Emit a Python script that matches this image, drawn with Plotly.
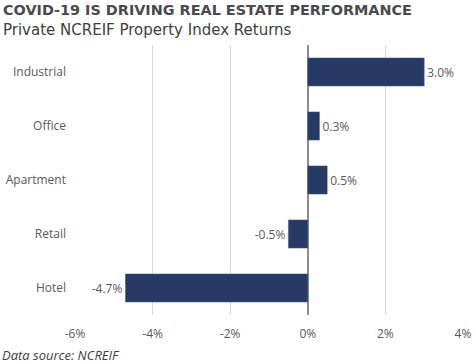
import plotly.graph_objects as go

categories = ["Industrial", "Office", "Apartment", "Retail", "Hotel"]
returns = [3.0, 0.3, 0.5, -0.5, -4.7]
tick_vals = [-6, -4, -2, 0, 2, 4]
tick_text = ["-6%", "-4%", "-2%", "0%", "2%", "4%"]

labels = [f"{v:.1f}%" for v in returns]

fig = go.Figure(go.Bar(
    x=returns, y=categories, orientation="h",
    marker=dict(color="#263A64", line=dict(color="#4a5a80", width=0.5)),
    text=labels, textposition="outside", cliponaxis=False,
    textfont=dict(family="Open Sans", size=12, color="#595959"),
    width=0.52,
))

fig.update_layout(
    width=475, height=363,
    margin=dict(l=75, r=12, t=45, b=48, autoexpand=False),
    paper_bgcolor="white", plot_bgcolor="white",
    showlegend=False,
    font=dict(family="Open Sans", color="#595959", size=12),
    xaxis=dict(range=[-6, 4], tickvals=tick_vals, ticktext=tick_text,
               showgrid=True, gridcolor="#D9D9D9", gridwidth=1,
               zeroline=True, zerolinecolor="#8c8c8c", zerolinewidth=1.5,
               showline=False, ticks="", fixedrange=True, automargin=False,
               ticklabelstandoff=10,
               tickfont=dict(size=12, color="#595959")),
    yaxis=dict(categoryorder="array", categoryarray=categories[::-1],
               showgrid=False, ticks="", ticklabelstandoff=8, automargin=False,
               fixedrange=True,
               tickfont=dict(size=12, color="#595959")),
    annotations=[
        dict(text="<b>COVID-19 IS DRIVING REAL ESTATE PERFORMANCE</b>", x=0, y=1.0,
             xref="paper", yref="paper", xanchor="left", yanchor="top",
             showarrow=False, font=dict(size=14.4, color="#4a4a4a", family="DejaVu Sans"),
             xshift=-74, yshift=45),
        dict(text="Private NCREIF Property Index Returns", x=0, y=1.0,
             xref="paper", yref="paper", xanchor="left", yanchor="top",
             showarrow=False, font=dict(size=15, color="#404040", family="DejaVu Sans"),
             xshift=-74, yshift=26),
        dict(text="<i>Data source: NCREIF</i>", x=0, y=0,
             xref="paper", yref="paper", xanchor="left", yanchor="top",
             showarrow=False, font=dict(size=13, color="#404040", family="Open Sans"),
             xshift=-75, yshift=-29),
    ],
)

fig.write_html("out.html", config={"displayModeBar": False, "staticPlot": True},
               post_script="document.body.style.margin='0';document.body.style.overflow='hidden';")
